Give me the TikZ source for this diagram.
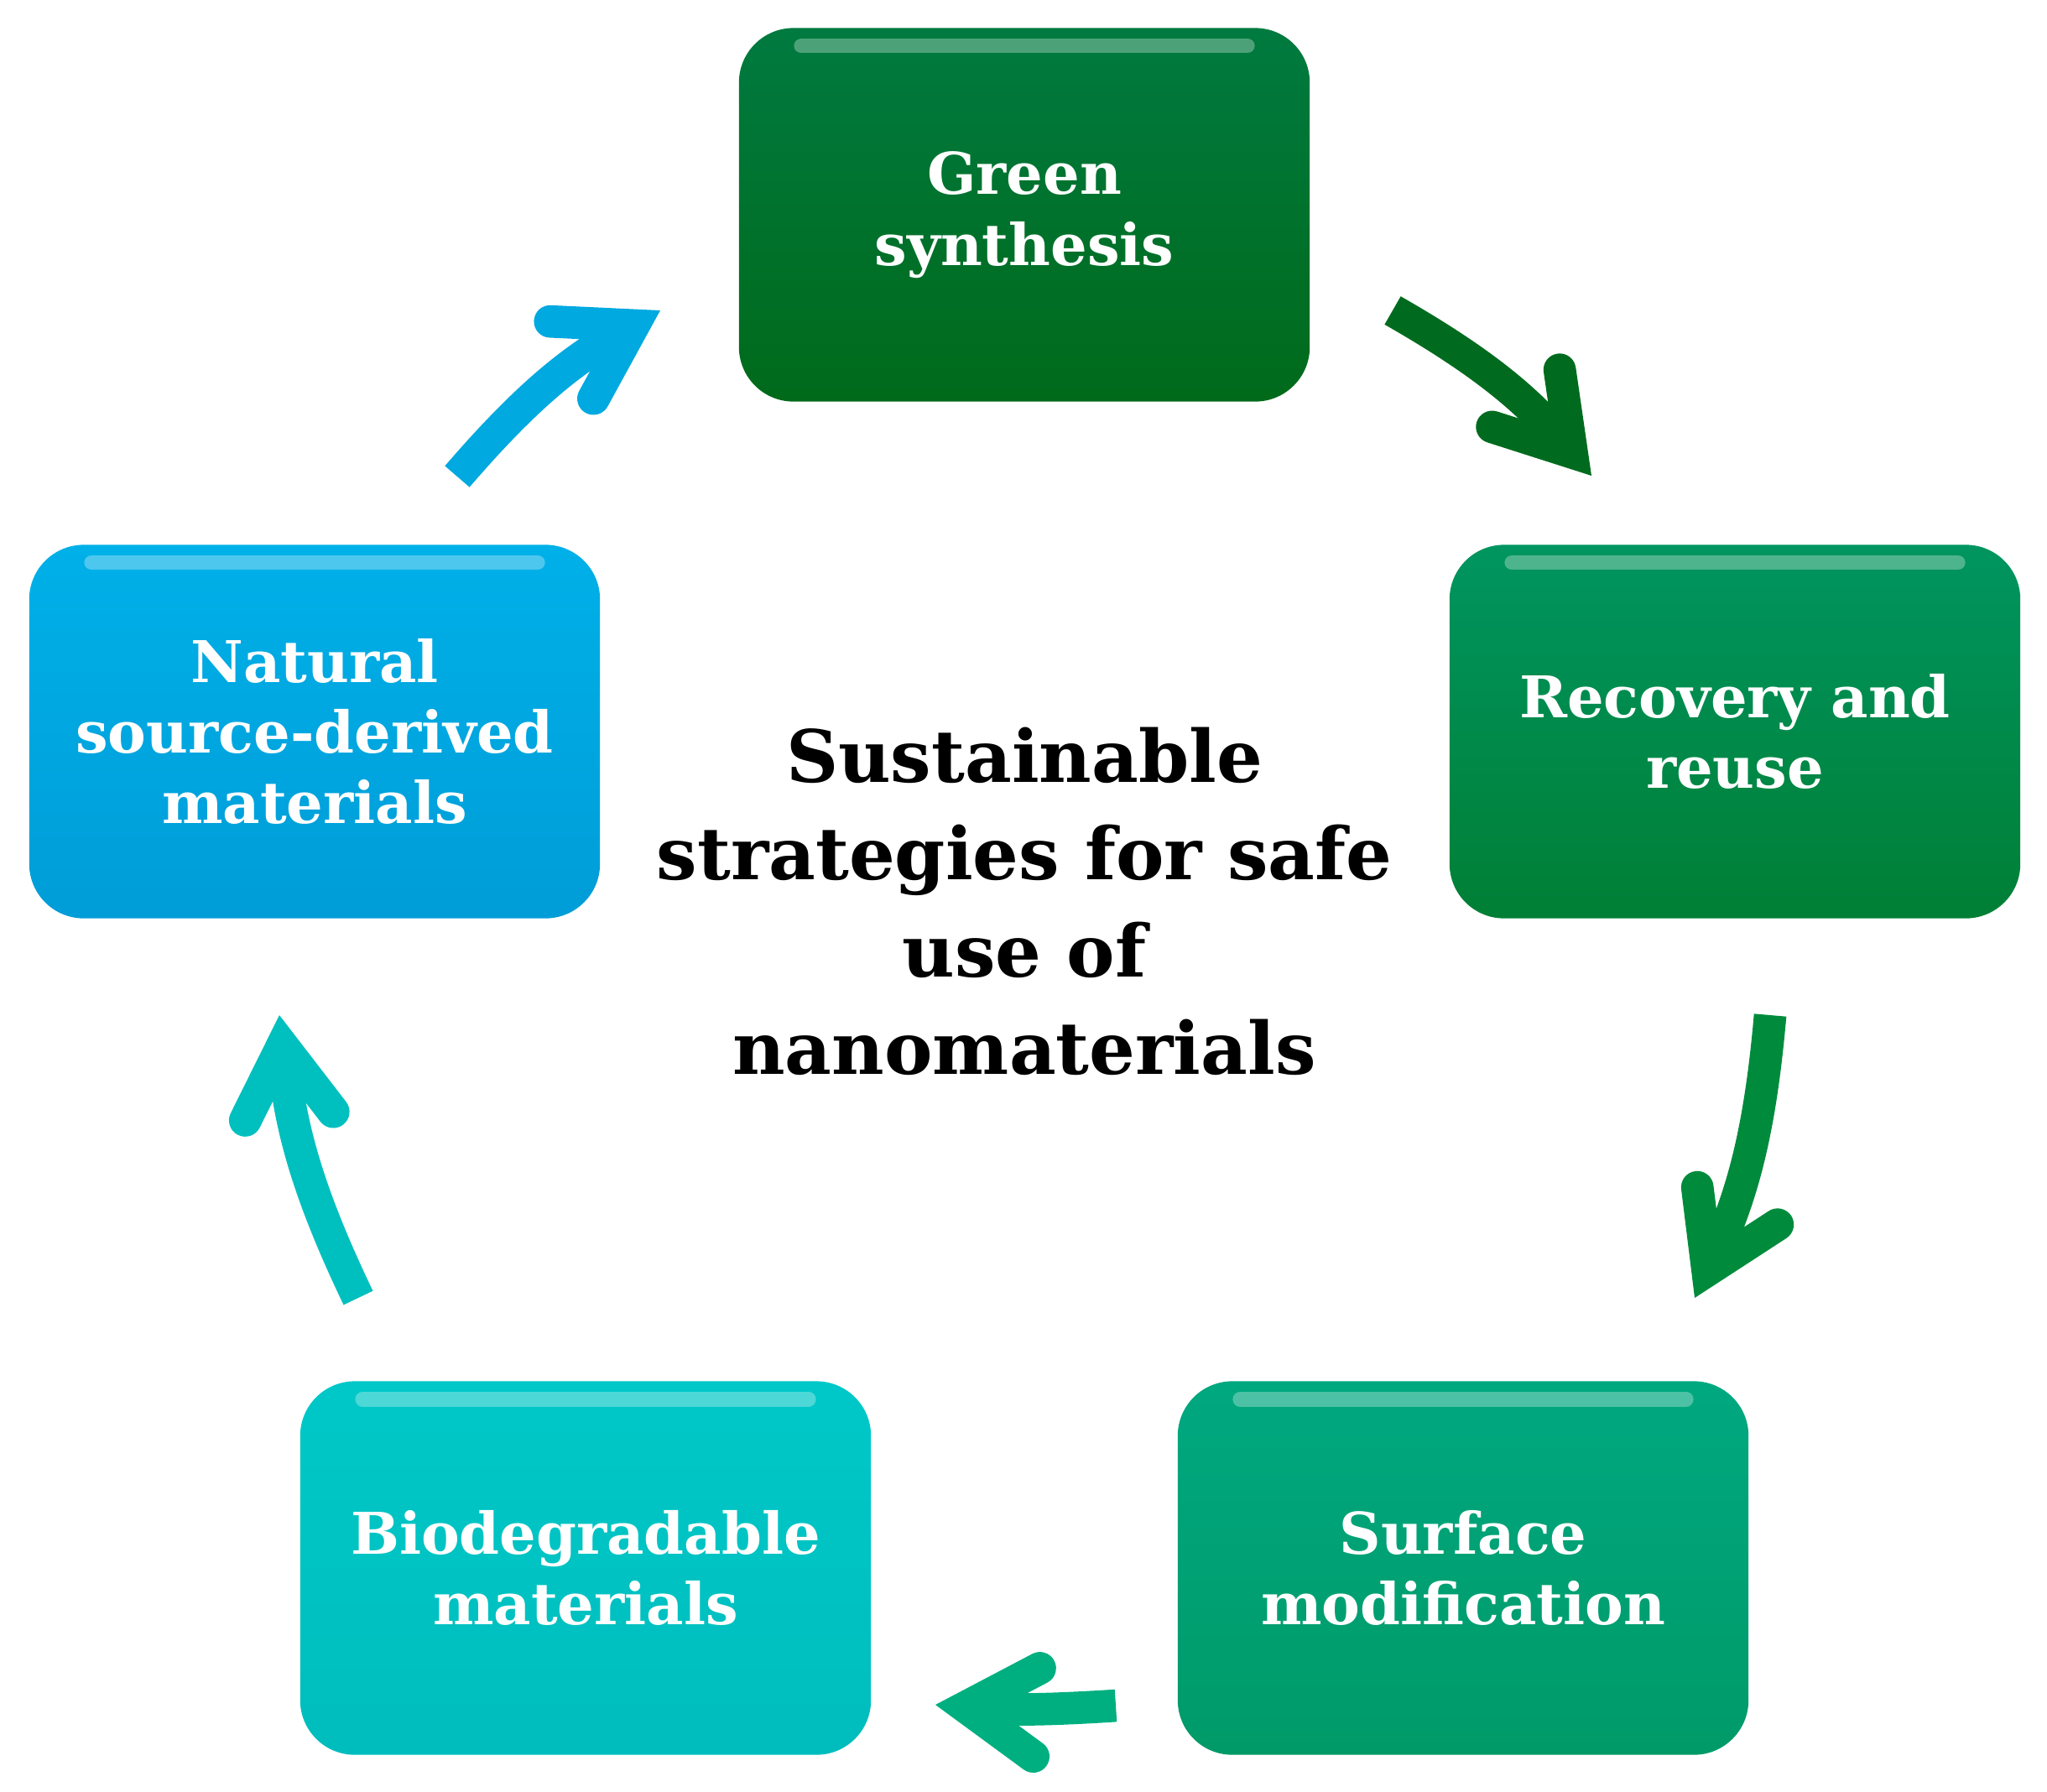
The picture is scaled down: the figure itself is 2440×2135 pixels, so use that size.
\documentclass[tikz,border=0pt]{standalone}
\usepackage{fontspec}
\setmainfont{DejaVu Serif}
\usepackage{tikz}
\usetikzlibrary{arrows.meta}
\definecolor{gsTop}{HTML}{007A40}
\definecolor{gsBot}{HTML}{006A1A}
\definecolor{rrTop}{HTML}{009560}
\definecolor{rrBot}{HTML}{007F35}
\definecolor{smTop}{HTML}{00A880}
\definecolor{smBot}{HTML}{009A68}
\definecolor{bdTop}{HTML}{00C8C8}
\definecolor{bdBot}{HTML}{00BDBD}
\definecolor{nsTop}{HTML}{00B0E8}
\definecolor{nsBot}{HTML}{009DD8}
\definecolor{arBlue}{HTML}{00A9E0}
\definecolor{arDark}{HTML}{006B1E}
\definecolor{arGreen}{HTML}{008B3C}
\definecolor{arSea}{HTML}{00AF80}
\definecolor{arTeal}{HTML}{00C0BF}
\pgfkeys{tikz/stagebox/.style={rounded corners=0.65cm,
                                   minimum width=6.8cm,
                                   minimum height=4.45cm,
                                   text=white, align=center,
                                   font=\bfseries\fontsize{19.5}{24}\selectfont}}
\pgfkeys{tikz/flow/.style={line width=11pt, bend left=10,
                               -{Straight Barb[length=24pt, width=30pt, line cap=round, line join=miter]}}}

\begin{document}
\begin{tikzpicture}[x=0.01cm, y=-0.01cm]
                \useasboundingbox (0,0) rectangle (2440,2135);

                \node[stagebox, top color=gsTop, bottom color=gsBot] (green) at (1221,256) {Green\\synthesis};
                \node[stagebox, top color=rrTop, bottom color=rrBot] (recovery) at (2068,872) {Recovery and\\reuse};
                \node[stagebox, top color=smTop, bottom color=smBot] (surface) at (1744,1869) {Surface\\modification};
                \node[stagebox, top color=bdTop, bottom color=bdBot] (biodeg) at (698,1869) {Biodegradable\\materials};
                \node[stagebox, top color=nsTop, bottom color=nsBot] (natural) at (375,872) {Natural\\source-derived\\materials};

                % glossy rim along the top of each box
                \foreach \b in {green,recovery,surface,biodeg,natural}
                    \draw[white, opacity=0.3, line width=5pt, line cap=round]
                        ([xshift=0.75cm,yshift=-0.22cm]\b.north west) -- ([xshift=-0.75cm,yshift=-0.22cm]\b.north east);

                \node[align=center, font=\bfseries\fontsize{24.5}{33}\selectfont] (center) at (1221,1074)
                    {Sustainable\\strategies for safe\\use of\\nanomaterials};

                \coordinate (a1s) at (1660,370);
                \coordinate (a1e) at (1897,567);
                \coordinate (a2s) at (2110,1210);
                \coordinate (a2e) at (2020,1547);
                \coordinate (a3s) at (1330,2033);
                \coordinate (a3e) at (1115,2032);
                \coordinate (a4s) at (427,1547);
                \coordinate (a4e) at (333,1210);
                \coordinate (a5s) at (545,568);
                \coordinate (a5e) at (787,370);

                \draw[flow, arDark] (a1s) to (a1e);
                \draw[flow, arGreen] (a2s) to (a2e);
                \draw[flow, arSea, bend left=4] (a3s) to (a3e);
                \draw[flow, arTeal] (a4s) to (a4e);
                \draw[flow, arBlue] (a5s) to (a5e);

            \end{tikzpicture}
\end{document}
